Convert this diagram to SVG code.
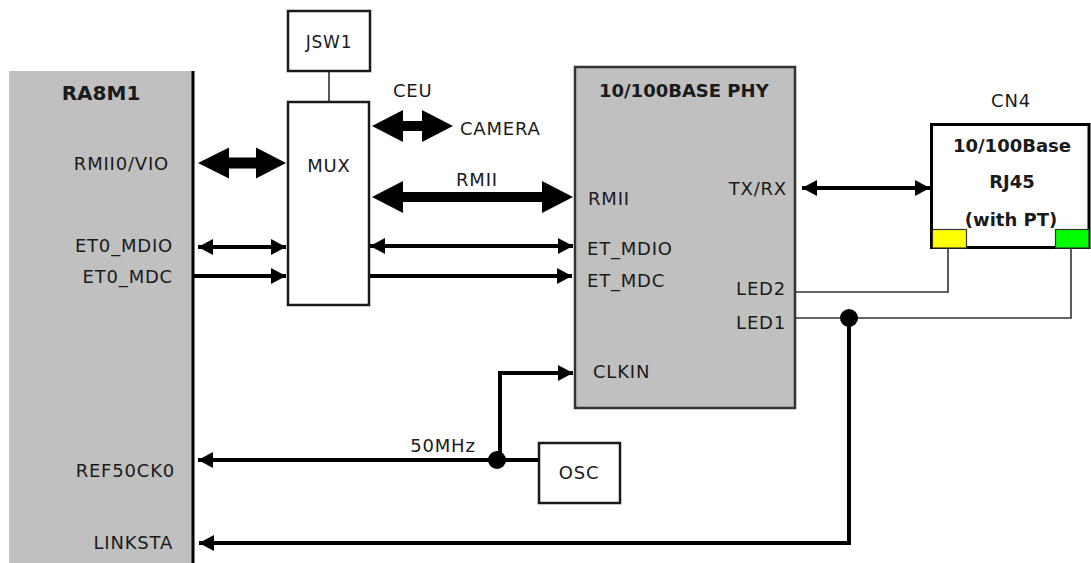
<svg xmlns="http://www.w3.org/2000/svg" width="1091" height="563" viewBox="0 0 1091 563">
<defs>
<marker id="ah" markerUnits="userSpaceOnUse" markerWidth="15" markerHeight="16" refX="15" refY="8" orient="auto-start-reverse" viewBox="0 0 15 16">
<path d="M0,0 L15,8 L0,16 Z" fill="#000"/>
</marker>
<style>
text{font-family:"DejaVu Sans","Liberation Sans",sans-serif;font-size:18px;fill:#1a1a1a;letter-spacing:0.8px}
.b{font-weight:bold;letter-spacing:0}
.box{fill:#fff;stroke:#1a1a1a;stroke-width:2.5}
.chip{fill:#c0c0c0}
.thin{fill:none;stroke:#000;stroke-width:4}
.led{fill:none;stroke:#333;stroke-width:1.6}
.fat{fill:#000}
</style>
</defs>

<g id="RA8M1">
<rect class="chip" x="9" y="71" width="184" height="492"/>
<line x1="193" y1="71" x2="193" y2="563" stroke="#000" stroke-width="3"/>
<text class="b" x="101" y="100" text-anchor="middle" style="font-size:20px">RA8M1</text>
<text x="169" y="170" text-anchor="end">RMII0/VIO</text>
<text x="173" y="252" text-anchor="end">ET0_MDIO</text>
<text x="173" y="283" text-anchor="end">ET0_MDC</text>
<text x="175" y="477" text-anchor="end">REF50CK0</text>
<text x="173" y="549" text-anchor="end">LINKSTA</text>
</g>

<g id="JSW1">
<rect class="box" x="288" y="11" width="82" height="60"/>
<text x="329" y="48" text-anchor="middle" style="font-size:17px">JSW1</text>
</g>

<g id="MUX">
<rect class="box" x="288" y="102" width="81" height="203"/>
<text x="329" y="172" text-anchor="middle">MUX</text>
</g>

<g id="PHY">
<rect x="575" y="67" width="220" height="341" fill="#c0c0c0" stroke="#333" stroke-width="2.5"/>
<text class="b" x="599" y="97">10/100BASE PHY</text>
<text x="588" y="205">RMII</text>
<text x="587" y="255">ET_MDIO</text>
<text x="587" y="287">ET_MDC</text>
<text x="593" y="378">CLKIN</text>
<text x="787" y="195" text-anchor="end">TX/RX</text>
<text x="786" y="295" text-anchor="end">LED2</text>
<text x="786" y="329" text-anchor="end">LED1</text>
</g>

<g id="CN4">
<text x="1011" y="107" text-anchor="middle">CN4</text>
<rect x="931.5" y="124.5" width="157.5" height="123" fill="#fff" stroke="#000" stroke-width="3"/>
<rect x="932.5" y="229.5" width="34" height="18.5" fill="#ffff00" stroke="#333" stroke-width="1.2"/>
<rect x="1055.5" y="229.5" width="33.5" height="18.5" fill="#00ff00" stroke="#333" stroke-width="1.2"/>
<text class="b" x="1012" y="152" text-anchor="middle">10/100Base</text>
<text class="b" x="1012" y="188" text-anchor="middle">RJ45</text>
<text class="b" x="1011" y="226" text-anchor="middle">(with PT)</text>
</g>

<g id="OSC">
<rect class="box" x="539" y="443" width="81" height="60"/>
<text x="579" y="479" text-anchor="middle">OSC</text>
</g>

<g id="labels">
<text x="393" y="97">CEU</text>
<text x="460" y="135">CAMERA</text>
<text x="477" y="186" text-anchor="middle">RMII</text>
<text x="443" y="452" text-anchor="middle">50MHz</text>
</g>

<g id="connectors">
<line x1="329" y1="71" x2="329" y2="102" stroke="#222" stroke-width="1.5"/>
<path class="fat" d="M198,163 L229,147.5 L229,157.5 L256,157.5 L256,147.5 L286,163 L256,178.5 L256,168.5 L229,168.5 L229,178.5 Z"/>
<path class="fat" d="M372,126 L403,110 L403,121 L422,121 L422,110 L453,126 L422,142 L422,131 L403,131 L403,142 Z"/>
<path class="fat" d="M372,197 L403,181 L403,192 L542,192 L542,181 L573,197 L542,213 L542,202 L403,202 L403,213 Z"/>
<line class="thin" x1="198" y1="247" x2="286" y2="247" marker-start="url(#ah)" marker-end="url(#ah)"/>
<line class="thin" x1="194" y1="276" x2="286" y2="276" marker-end="url(#ah)"/>
<line class="thin" x1="370" y1="246" x2="573" y2="246" marker-start="url(#ah)" marker-end="url(#ah)"/>
<line class="thin" x1="370" y1="276" x2="572" y2="276" marker-end="url(#ah)"/>
<line class="thin" x1="802" y1="188" x2="930" y2="188" marker-start="url(#ah)" marker-end="url(#ah)"/>
<path class="thin" d="M500,460 L500,373 L573,373" marker-end="url(#ah)"/>
<line class="thin" x1="539" y1="460" x2="198" y2="460" marker-end="url(#ah)"/>
<path class="thin" d="M849,318 L849,543 L199,543" marker-end="url(#ah)"/>
<path class="led" d="M795,292 L948,292 L948,248"/>
<path class="led" d="M795,318 L1071,318 L1071,248"/>
<circle cx="497" cy="460" r="9" fill="#000"/>
<circle cx="849" cy="318" r="9" fill="#000"/>
</g>
</svg>
